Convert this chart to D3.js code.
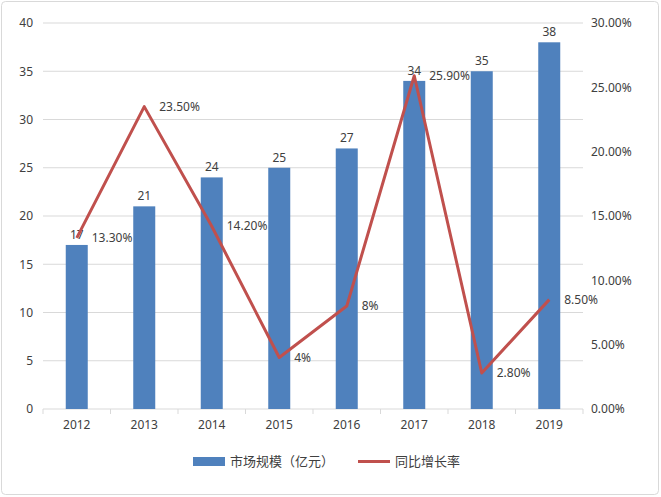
<!DOCTYPE html>
<html><head><meta charset="utf-8">
<script src="https://cdn.jsdelivr.net/npm/d3@7"></script>
<style>
body{margin:0;background:#fff;font-family:"Noto Sans CJK SC","Noto Sans",sans-serif;}
</style></head><body>
<svg id="chart" width="661" height="497"></svg>
<script>
var years = ['2012','2013','2014','2015','2016','2017','2018','2019'];
var scale = [17,21,24,25,27,34,35,38];
var growth = [13.3,23.5,14.2,4,8,25.9,2.8,8.5];
var growthLabels = ['13.30%','23.50%','14.20%','4%','8%','25.90%','2.80%','8.50%'];
var leftTicks = [0,5,10,15,20,25,30,35,40];
var rightTicks = [0,5,10,15,20,25,30];

var svg = d3.select('#chart');
var m = {left:43, right:583, top:23, bottom:409};

svg.append('rect').attr('x',1.5).attr('y',1.5).attr('width',657).attr('height',493)
	.attr('rx',4).attr('fill','#fff').attr('stroke','#d9d9d9');

var x = d3.scaleBand().domain(years).range([m.left,m.right]);
var yL = d3.scaleLinear().domain([0,40]).range([m.bottom,m.top]);
var yR = d3.scaleLinear().domain([0,30]).range([m.bottom,m.top]);

//gridlines
svg.append('g').selectAll('line').data(leftTicks.slice(1)).join('line')
	.attr('x1',m.left).attr('x2',m.right)
	.attr('y1',d=>yL(d)).attr('y2',d=>yL(d))
	.attr('stroke','#d9d9d9');

//axes
var gl = svg.append('g').attr('transform','translate('+m.left+',0)')
	.call(d3.axisLeft(yL).tickValues(leftTicks).tickSize(0).tickPadding(10));
var gr = svg.append('g').attr('transform','translate('+m.right+',0)')
	.call(d3.axisRight(yR).tickValues(rightTicks).tickSize(0).tickPadding(8)
		.tickFormat(d=>d.toFixed(2)+'%'));
var gx = svg.append('g').attr('transform','translate(0,'+m.bottom+')')
	.call(d3.axisBottom(x).tickSize(0).tickPadding(11));
[gl,gr,gx].forEach(function(g){
	g.select('.domain').remove();
	g.selectAll('text').attr('fill','#404040').style('font-size','12px').style('font-family','"Noto Sans","DejaVu Sans",sans-serif');
});
svg.append('line').attr('x1',m.left).attr('x2',m.right).attr('y1',m.bottom).attr('y2',m.bottom).attr('stroke','#d9d9d9');
svg.append('g').selectAll('line').data(years.concat(['end'])).join('line')
	.attr('x1',(d,i)=>m.left+i*x.step()).attr('x2',(d,i)=>m.left+i*x.step())
	.attr('y1',m.bottom).attr('y2',m.bottom+5).attr('stroke','#d9d9d9');

//bars
var bw = 22;
svg.append('g').selectAll('rect').data(scale).join('rect')
	.attr('x',(d,i)=>x(years[i])+x.bandwidth()/2-bw/2)
	.attr('width',bw)
	.attr('y',d=>yL(d)).attr('height',d=>m.bottom-yL(d))
	.attr('fill','#4f81bd');
svg.append('g').selectAll('text').data(scale).join('text')
	.attr('x',(d,i)=>x(years[i])+x.bandwidth()/2)
	.attr('y',d=>yL(d)-6)
	.attr('text-anchor','middle').attr('fill','#404040')
	.style('font-size','12px').style('font-family','"Noto Sans",sans-serif')
	.text(d=>d);

//line
var line = d3.line().x((d,i)=>x(years[i])+x.bandwidth()/2).y(d=>yR(d));
svg.append('path').datum(growth).attr('d',line)
	.attr('fill','none').attr('stroke','#c0504d').attr('stroke-width',3).attr('stroke-linejoin','round');
svg.append('g').selectAll('text').data(growth).join('text')
	.attr('x',(d,i)=>x(years[i])+x.bandwidth()/2+15)
	.attr('y',d=>yR(d)+4)
	.attr('fill','#404040')
	.style('font-size','12px').style('font-family','"Noto Sans",sans-serif')
	.text((d,i)=>growthLabels[i]);

//legend
var lg = svg.append('g');
lg.append('rect').attr('x',193).attr('y',457).attr('width',32).attr('height',9).attr('fill','#4f81bd');
lg.append('text').attr('x',230).attr('y',466).attr('fill','#404040').style('font-size','13px').text('市场规模（亿元）');
lg.append('line').attr('x1',358).attr('x2',390).attr('y1',461.5).attr('y2',461.5).attr('stroke','#c0504d').attr('stroke-width',3);
lg.append('text').attr('x',395).attr('y',466).attr('fill','#404040').style('font-size','13px').text('同比增长率');
</script>
</body></html>
